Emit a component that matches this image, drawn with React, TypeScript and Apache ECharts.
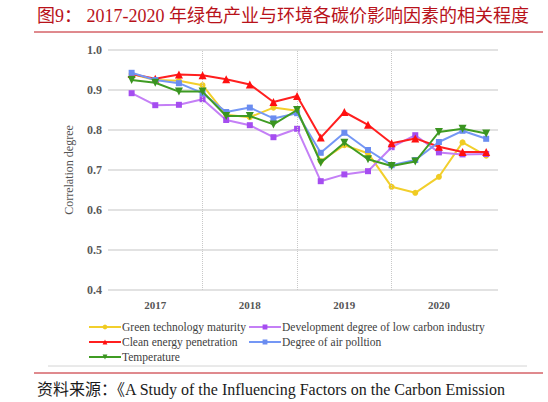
import React, { useEffect, useRef } from 'react';
import * as echarts from 'echarts';

// Quarter index (1..16) of each data point, 2017Q1 .. 2020Q4
const quarters = [1, 2, 3, 4, 5, 6, 7, 8, 9, 10, 11, 12, 13, 14, 15, 16];

const seriesNames = [
  'Green technology maturity',
  'Development degree of low carbon industry',
  'Clean energy penetration',
  'Degree of air polltion',
  'Temperature',
];

const greenTech = [0.94, 0.925, 0.923, 0.912, 0.838, 0.832, 0.856, 0.848, 0.722, 0.762, 0.742, 0.658, 0.643, 0.683, 0.769, 0.736];
const lowCarbon = [0.892, 0.862, 0.863, 0.877, 0.825, 0.812, 0.782, 0.803, 0.672, 0.689, 0.697, 0.757, 0.787, 0.744, 0.739, 0.740];
const cleanEnergy = [0.94, 0.928, 0.939, 0.937, 0.927, 0.914, 0.87, 0.885, 0.781, 0.845, 0.813, 0.767, 0.779, 0.758, 0.745, 0.745];
const airPollution = [0.943, 0.925, 0.917, 0.892, 0.845, 0.856, 0.829, 0.842, 0.743, 0.793, 0.75, 0.712, 0.725, 0.770, 0.798, 0.778];
const temperature = [0.925, 0.918, 0.896, 0.896, 0.835, 0.835, 0.814, 0.85, 0.718, 0.768, 0.727, 0.71, 0.721, 0.795, 0.803, 0.791];

const yearLabels = ['2017', '2018', '2019', '2020'];
const yearLabelPositions = [2, 6, 10, 14];
const yearBoundaries = [4, 8, 12];

const titleText = '图9： 2017-2020 年绿色产业与环境各碳价影响因素的相关程度';
const sourceText = '资料来源：《A Study of the Influencing Factors on the Carbon Emission';

const SERIF = '"Liberation Serif", "Times New Roman", "DejaVu Serif", serif';
const TITLE_FONT = '"Liberation Serif", "Noto Sans CJK SC", serif';

const lineColors = ['#f2cf2c', '#c47ff6', '#ff1f1f', '#7497f5', '#3f9c23'];
const markerColors = ['#f0cb22', '#a54df0', '#ff1010', '#6a8cf0', '#3a9420'];
const symbols = ['circle', 'rect', 'triangle', 'rect', 'triangle'];
const symbolRotates = [0, 0, 0, 0, 180];

const legendLefts = [88, 248, 88, 248, 88];
const legendTops = [321, 321, 336, 336, 351];

export default function App() {
  const ref = useRef<HTMLDivElement>(null);

  useEffect(() => {
    if (!ref.current) return;
    const chart = echarts.init(ref.current, undefined, { renderer: 'svg' });
    const allData = [greenTech, lowCarbon, cleanEnergy, airPollution, temperature];

    const series = allData.map((vals, i) => ({
      name: seriesNames[i],
      type: 'line',
      data: quarters.map((q, j) => [q, vals[j]]),
      symbol: symbols[i],
      symbolRotate: symbolRotates[i],
      symbolSize: i === 2 || i === 4 ? 8 : 6,
      lineStyle: { color: lineColors[i], width: 2 },
      itemStyle: { color: markerColors[i] },
      z: 3 + i,
      ...(i === 0
        ? {
            markLine: {
              silent: true,
              symbol: 'none',
              label: { show: false },
              lineStyle: { type: 'dotted', color: '#c8c8c8', width: 1 },
              data: yearBoundaries.map((b) => ({ xAxis: b })),
            },
          }
        : {}),
    }));

    const legends = seriesNames.map((n, i) => ({
      data: [n],
      left: legendLefts[i],
      top: legendTops[i],
      padding: 0,
      itemWidth: 32,
      itemHeight: 6,
      itemGap: 0,
      selectedMode: false,
      textStyle: {
        fontFamily: SERIF,
        fontSize: 11.5,
        color: '#404040',
        padding: [0, 0, 0, -4],
      },
    }));

    chart.setOption({
      animation: false,
      backgroundColor: '#ffffff',
      grid: { left: 108, right: 50, top: 50, bottom: 112 },
      xAxis: {
        type: 'value',
        min: 0,
        max: 16.5,
        interval: 2,
        axisLine: { show: false },
        axisTick: { show: false },
        splitLine: { show: false },
        axisLabel: {
          margin: 9,
          fontFamily: SERIF,
          fontSize: 11,
          fontWeight: 'bold',
          color: '#555555',
          showMaxLabel: false,
          formatter: (v: number) => {
            const idx = yearLabelPositions.indexOf(v);
            return idx >= 0 ? yearLabels[idx] : '';
          },
        },
      },
      yAxis: {
        type: 'value',
        min: 0.4,
        max: 1.0,
        interval: 0.1,
        name: 'Correlation degree',
        nameLocation: 'middle',
        nameGap: 33,
        nameTextStyle: { fontFamily: SERIF, fontSize: 12, color: '#555555' },
        axisLine: { show: false },
        axisTick: { show: false },
        axisLabel: {
          margin: 6,
          fontFamily: SERIF,
          fontSize: 12,
          fontWeight: 'bold',
          color: '#595959',
          formatter: (v: number) => v.toFixed(1),
        },
        splitLine: { lineStyle: { color: '#d9d9d9', width: 1.5 } },
      },
      legend: legends,
      series,
      graphic: [
        {
          type: 'text',
          x: 37,
          y: 16,
          style: {
            text: titleText,
            fill: '#b8121a',
            font: `normal 18px ${TITLE_FONT}`,
            textVerticalAlign: 'middle',
          },
        },
        {
          type: 'line',
          shape: { x1: 34, y1: 32, x2: 543, y2: 32 },
          style: { stroke: '#c0141c', lineWidth: 1 },
        },
        {
          type: 'line',
          shape: { x1: 48, y1: 366, x2: 527, y2: 366 },
          style: { stroke: '#d4d4d4', lineWidth: 1 },
        },
        {
          type: 'line',
          shape: { x1: 34, y1: 373, x2: 543, y2: 373 },
          style: { stroke: '#c0141c', lineWidth: 1 },
        },
        {
          type: 'text',
          x: 37,
          y: 389,
          style: {
            text: sourceText,
            fill: '#1a1a1a',
            font: `normal 16px ${TITLE_FONT}`,
            textVerticalAlign: 'middle',
          },
        },
      ],
    });

    return () => {
      chart.dispose();
    };
  }, []);

  return (
    <div
      ref={ref}
      style={{ position: 'absolute', left: 0, top: 0, width: 548, height: 402, background: '#fff' }}
    />
  );
}
